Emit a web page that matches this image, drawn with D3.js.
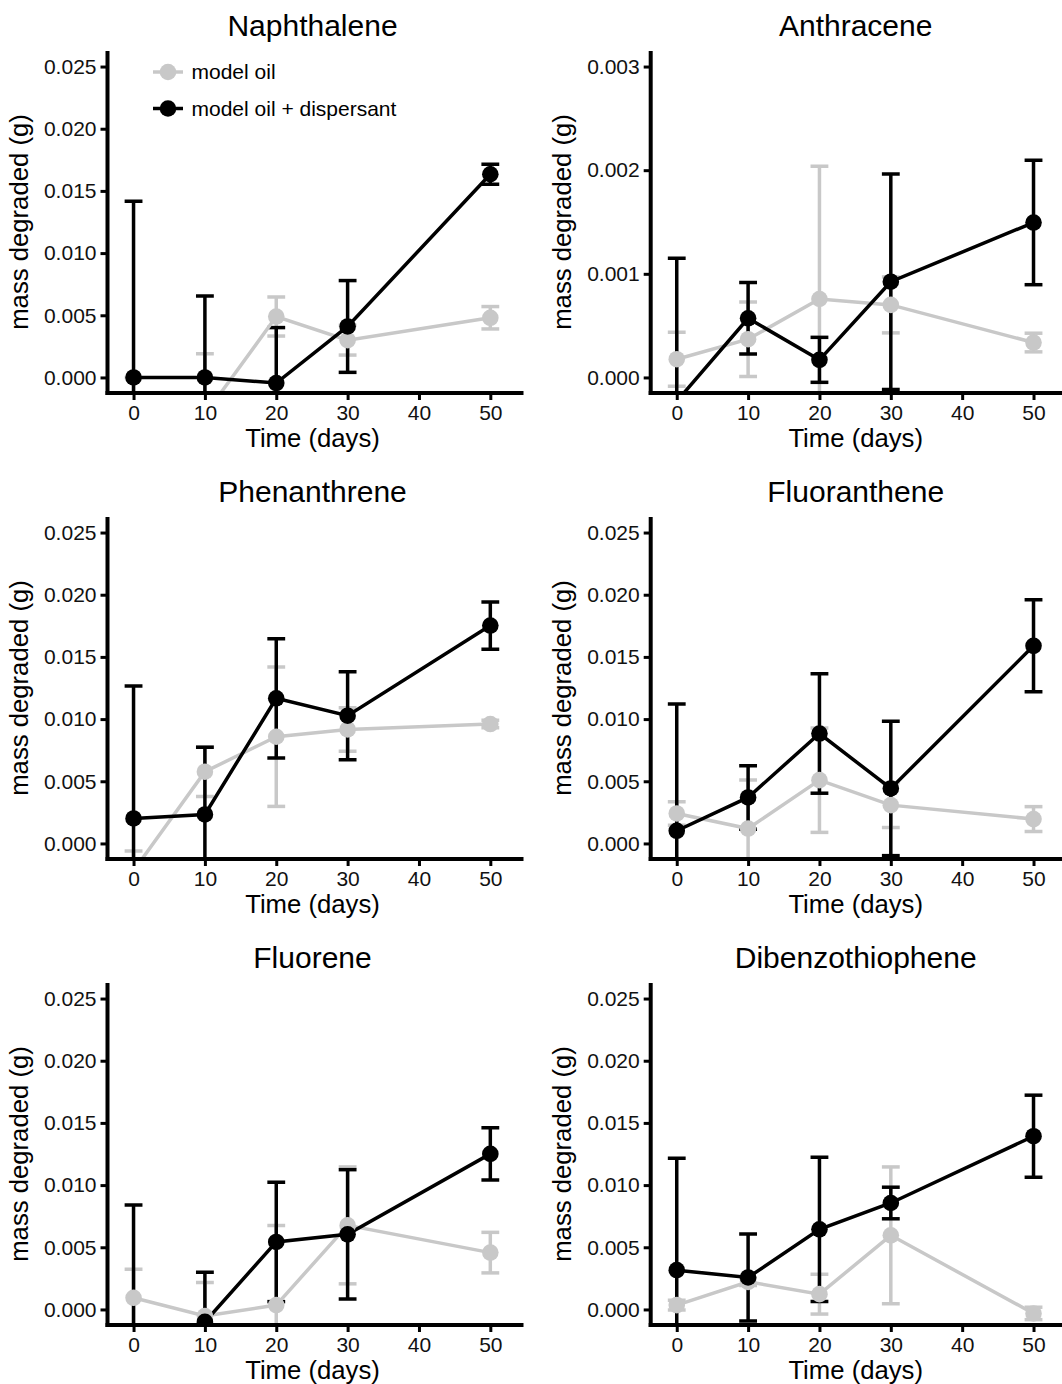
<!DOCTYPE html>
<html>
<head>
<meta charset="utf-8">
<script src="https://cdn.jsdelivr.net/npm/d3@7"></script>
<style>
  body { margin: 0; background: #fff; }
  svg { display: block; font-family: "Liberation Sans", Arial, sans-serif; }
</style>
</head>
<body>
<svg id="chart" width="1062" height="1384"></svg>
<script>
// sampling days
var days = [0, 10, 20, 30, 50];

var titles = ["Naphthalene", "Anthracene", "Phenanthrene", "Fluoranthene", "Fluorene", "Dibenzothiophene"];
var yMaxes = [0.025, 0.003, 0.025, 0.025, 0.025, 0.025];
var yTicksBig = [0, 0.005, 0.010, 0.015, 0.020, 0.025];
var yTicksSmall = [0, 0.001, 0.002, 0.003];
var xTicks = [0, 10, 20, 30, 40, 50];
var seriesNames = ["model oil", "model oil + dispersant"];

// mean mass degraded (g) and error (+/-)
var naphOil = [-0.003, -0.003, 0.0049, 0.0030, 0.0048];
var naphOilErr = [0.003, 0.0049, 0.00157, 0.0012, 0.0009];
var naphDisp = [0.0, 0.0, -0.00045, 0.0041, 0.01634];
var naphDispErr = [0.01417, 0.00655, 0.00446, 0.00369, 0.0008];

var anthOil = [0.000176, 0.000369, 0.000757, 0.0007, 0.000337];
var anthOilErr = [0.00026, 0.00036, 0.00128, 0.00027, 0.00009];
var anthDisp = [-0.00023, 0.000571, 0.00017, 0.000924, 0.001495];
var anthDispErr = [0.00138, 0.000345, 0.000217, 0.00104, 0.0006];

var phenOil = [-0.0022, 0.00577, 0.00858, 0.00917, 0.0096];
var phenOilErr = [0.0016, 0.002, 0.0056, 0.00175, 0.0003];
var phenDisp = [0.00201, 0.00233, 0.01167, 0.01027, 0.01752];
var phenDispErr = [0.01065, 0.0054, 0.0048, 0.00353, 0.0019];

var fluaOil = [0.00241, 0.0012, 0.00509, 0.00308, 0.00196];
var fluaOilErr = [0.00094, 0.0039, 0.0042, 0.0018, 0.001];
var fluaDisp = [0.00102, 0.0037, 0.00884, 0.00442, 0.01589];
var fluaDispErr = [0.0102, 0.00255, 0.0048, 0.0054, 0.0037];

var fluoOil = [0.00094, -0.00053, 0.00035, 0.00676, 0.00457];
var fluoOilErr = [0.0023, 0.0027, 0.0064, 0.0047, 0.00163];
var fluoDisp = [-0.003, -0.001, 0.00543, 0.00604, 0.01251];
var fluoDispErr = [0.0114, 0.004, 0.0048, 0.0052, 0.0021];

var dbtOil = [0.00035, 0.00222, 0.00123, 0.00596, -0.00032];
var dbtOilErr = [0.0004, 0.0003, 0.0016, 0.0055, 0.0005];
var dbtDisp = [0.00316, 0.00257, 0.00644, 0.00856, 0.01393];
var dbtDispErr = [0.009, 0.0035, 0.0058, 0.00127, 0.0033];

var panelOil = [naphOil, anthOil, phenOil, fluaOil, fluoOil, dbtOil];
var panelOilErr = [naphOilErr, anthOilErr, phenOilErr, fluaOilErr, fluoOilErr, dbtOilErr];
var panelDisp = [naphDisp, anthDisp, phenDisp, fluaDisp, fluoDisp, dbtDisp];
var panelDispErr = [naphDispErr, anthDispErr, phenDispErr, fluaDispErr, fluoDispErr, dbtDispErr];

var colGray = "#c8c8c8", colBlack = "#000";
var colLefts = [107.5, 650.7], rowTops = [51, 517, 983];
var pw = 416, ph = 342;
var lw = 3.5, ptR = 8.3, capHalf = 1.25;

var svg = d3.select("#chart");
svg.append("rect").attr("width", 1062).attr("height", 1384).attr("fill", "#fff");

titles.forEach(function(title, i){
  var left = colLefts[i % 2], top = rowTops[Math.floor(i / 2)];
  var ym = yMaxes[i];
  var x = d3.scaleLinear().domain([-3.65, 54.65]).range([left, left + pw]);
  var y = d3.scaleLinear().domain([-0.05 * ym, 1.05 * ym]).range([top + ph, top]);
  var g = svg.append("g");

  g.append("clipPath").attr("id", "clip" + i)
    .append("rect").attr("x", left).attr("y", top).attr("width", pw).attr("height", ph);
  var plot = g.append("g").attr("clip-path", "url(#clip" + i + ")");

  var series = [
    {mean: panelOil[i], err: panelOilErr[i], col: colGray},
    {mean: panelDisp[i], err: panelDispErr[i], col: colBlack}
  ];

  // error bars first
  series.forEach(function(s){
    var eb = plot.append("g").attr("stroke", s.col).attr("stroke-width", lw).attr("fill", "none");
    days.forEach(function(d, k){
      var lo = s.mean[k] - s.err[k], hi = s.mean[k] + s.err[k];
      eb.append("line").attr("x1", x(d)).attr("x2", x(d)).attr("y1", y(lo)).attr("y2", y(hi));
      eb.append("line").attr("x1", x(d - capHalf)).attr("x2", x(d + capHalf)).attr("y1", y(lo)).attr("y2", y(lo));
      eb.append("line").attr("x1", x(d - capHalf)).attr("x2", x(d + capHalf)).attr("y1", y(hi)).attr("y2", y(hi));
    });
  });

  var line = d3.line().x(function(d){ return x(d[0]); }).y(function(d){ return y(d[1]); });
  series.forEach(function(s){
    plot.append("path").datum(d3.zip(days, s.mean)).attr("d", line)
      .attr("fill", "none").attr("stroke", s.col).attr("stroke-width", lw);
  });
  series.forEach(function(s){
    plot.selectAll(null).data(d3.zip(days, s.mean)).enter().append("circle")
      .attr("cx", function(d){ return x(d[0]); }).attr("cy", function(d){ return y(d[1]); })
      .attr("r", ptR).attr("fill", s.col);
  });

  // axes
  var yAxis = d3.axisLeft(y).tickValues(ym < 0.01 ? yTicksSmall : yTicksBig)
    .tickFormat(d3.format(".3f")).tickSize(7).tickSizeOuter(0).tickPadding(4);
  var xAxis = d3.axisBottom(x).tickValues(xTicks).tickSize(7).tickSizeOuter(0).tickPadding(5);

  var ya = g.append("g").attr("transform", "translate(" + left + ",0)").call(yAxis);
  var xa = g.append("g").attr("transform", "translate(0," + (top + ph) + ")").call(xAxis);
  [ya, xa].forEach(function(a){
    a.select(".domain").remove();
    a.attr("font-family", null).attr("font-size", 21);
    a.selectAll(".tick line").attr("stroke", "#000").attr("stroke-width", 3);
    a.selectAll(".tick text").attr("fill", "#111");
  });

  g.append("line").attr("x1", left).attr("x2", left).attr("y1", top).attr("y2", top + ph + 2)
    .attr("stroke", "#000").attr("stroke-width", 4);
  g.append("line").attr("x1", left - 2).attr("x2", left + pw).attr("y1", top + ph).attr("y2", top + ph)
    .attr("stroke", "#000").attr("stroke-width", 4);

  var cx = left + pw / 2 - 3;
  g.append("text").attr("x", cx).attr("y", top - 15).attr("text-anchor", "middle")
    .attr("font-size", 30).text(title);
  g.append("text").attr("x", cx).attr("y", top + ph + 54).attr("text-anchor", "middle")
    .attr("font-size", 25.7).text("Time (days)");
  g.append("text").attr("transform", "translate(" + (left - 79.5) + "," + (top + ph / 2) + ") rotate(-90)")
    .attr("text-anchor", "middle").attr("font-size", 25.7).text("mass degraded (g)");

  // legend only in the first panel
  if (i === 0) {
    var legY = [72, 108.5], cols = [colGray, colBlack];
    seriesNames.forEach(function(name, j){
      var lg = g.append("g");
      lg.append("line").attr("x1", 153).attr("x2", 183).attr("y1", legY[j]).attr("y2", legY[j])
        .attr("stroke", cols[j]).attr("stroke-width", lw);
      lg.append("circle").attr("cx", 168).attr("cy", legY[j]).attr("r", ptR).attr("fill", cols[j]);
      lg.append("text").attr("x", 191.5).attr("y", legY[j]).attr("dy", "0.35em")
        .attr("font-size", 21).text(name);
    });
  }
});
</script>
</body>
</html>
